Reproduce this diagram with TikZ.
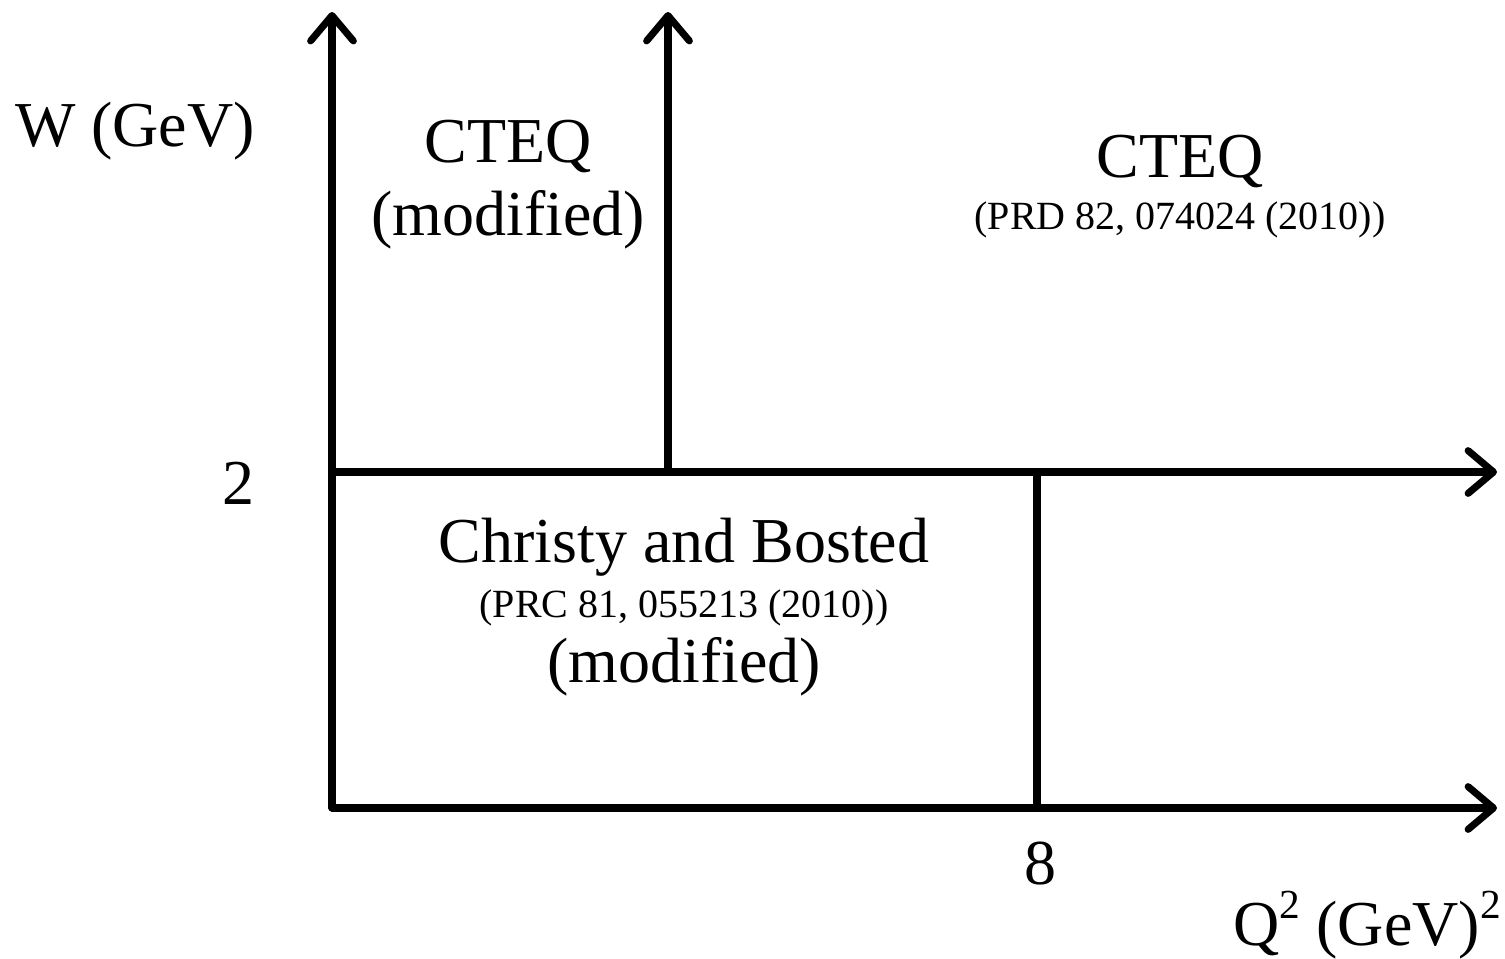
\documentclass[tikz,border=0pt]{standalone}
\usepackage{fontspec}
\setmainfont{Liberation Serif}
\usetikzlibrary{arrows.meta}
\newcommand{\supertwo}{\raisebox{0.42em}{\fontsize{31}{31}\selectfont 2}}
\begin{document}
\begin{tikzpicture}[x=0.75pt,y=-0.75pt,
  axis/.style={line width=5.3pt,line cap=round},
  arr/.style={axis,-{Straight Barb[length=19pt,width=32pt,round]}},
  big/.style={font=\fontsize{48}{58}\selectfont,inner sep=0pt},
  small/.style={font=\fontsize{30}{36}\selectfont,inner sep=0pt}]
\useasboundingbox (0,0) rectangle (1505,958);
\coordinate (O) at (332,808);
\coordinate (A) at (332,472);
\coordinate (B) at (668,472);
\coordinate (C) at (1037,472);
\coordinate (D) at (1037,808);
\coordinate (T1) at (332,12);
\coordinate (T2) at (668,12);
\coordinate (R1) at (1497,472);
\coordinate (R2) at (1497,808);
\draw[arr] (O) -- (T1);
\draw[arr] (B) -- (T2);
\draw[arr] (A) -- (R1);
\draw[arr] (O) -- (R2);
\draw[axis] (C) -- (D);
\node[big] (w) at (135,131) {W (GeV)};
\node[big] (two) at (238,483) {2};
\node[big] (eight) at (1040,864) {8};
\node[big,anchor=base east] (q) at (1501,945) {Q\supertwo{} (GeV)\supertwo};
\node[big] (c1) at (508,146) {CTEQ};
\node[big] (m1) at (508,220) {(modified)};
\node[big] (c2) at (1180,161) {CTEQ};
\node[small] (p2) at (1180,220) {(PRD 82, 074024 (2010))};
\node[big] (cb) at (684,547) {Christy and Bosted};
\node[small] (p3) at (684,608) {(PRC 81, 055213 (2010))};
\node[big] (m3) at (684,667) {(modified)};
\end{tikzpicture}
\end{document}
